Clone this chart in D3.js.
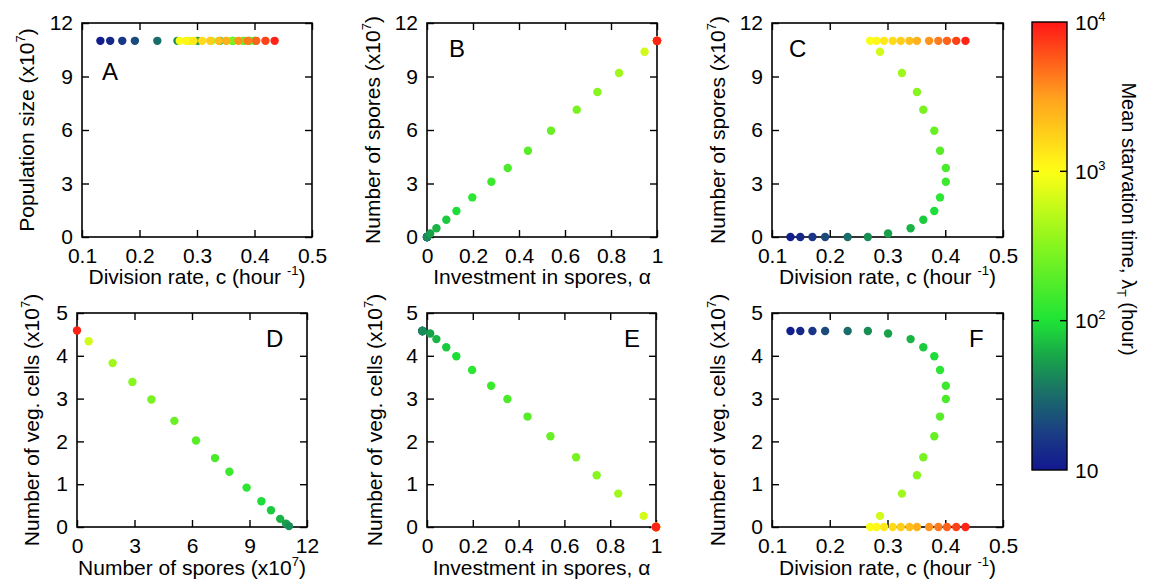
<!DOCTYPE html>
<html>
<head>
<meta charset="utf-8">
<script src="https://cdn.jsdelivr.net/npm/d3@7"></script>
<style>
  html, body { margin: 0; padding: 0; background: #fff; }
  svg { display: block; }
  text { font-family: Arial, "Liberation Sans", sans-serif; fill: #000; }
</style>
</head>
<body>
<svg id="chart" width="1151" height="585"></svg>
<script>
// Strategies with no spore investment (alpha = 0)
const cLow = [0.132, 0.149, 0.170, 0.192, 0.231, 0.266];
const lambdaLow = [11, 13, 16, 21, 32, 45];
const vegLow = 4.58;
const alphaLowPanelE = -0.02;

// Mixed strategies (0 < alpha < 1)
const alphaMid = [0.014, 0.041, 0.084, 0.128, 0.197, 0.280, 0.351, 0.439, 0.539, 0.651, 0.741, 0.835, 0.946];
const cMid = [0.301, 0.340, 0.362, 0.381, 0.391, 0.401, 0.401, 0.391, 0.381, 0.362, 0.351, 0.325, 0.287];
const sporesMid = [0.20, 0.49, 0.97, 1.46, 2.22, 3.10, 3.87, 4.84, 5.96, 7.14, 8.13, 9.20, 10.39];
const vegMid = [4.52, 4.39, 4.20, 3.99, 3.67, 3.30, 2.99, 2.58, 2.12, 1.63, 1.21, 0.78, 0.26];
const lambdaMid = [55, 65, 80, 95, 115, 140, 165, 190, 230, 270, 320, 400, 650];

// Strategies with full spore investment (alpha = 1)
const cHigh = [0.270, 0.281, 0.294, 0.309, 0.323, 0.338, 0.351, 0.372, 0.388, 0.403, 0.419, 0.435];
const lambdaHigh = [950, 1100, 1300, 1550, 1800, 2200, 2600, 3500, 4300, 5300, 7000, 9000];
const sporesHigh = 11;

// Total population size (x10^7)
const populationSize = 11;

// Panel D: vegetative cells against spores
const dSpores = [0, 0.61, 1.86, 2.89, 3.88, 5.08, 6.21, 7.20, 7.95, 8.85, 9.62, 10.12, 10.60, 10.90, 11.06];
const dVeg = [4.59, 4.34, 3.83, 3.39, 2.98, 2.48, 2.02, 1.61, 1.29, 0.92, 0.60, 0.39, 0.19, 0.08, 0.02];
const dLambda = [9000, 650, 400, 320, 270, 230, 190, 165, 140, 115, 95, 80, 65, 55, 45];

// Axis ticks
const rateTicks = [0.1, 0.2, 0.3, 0.4, 0.5];
const alphaTicks = [0, 0.2, 0.4, 0.6, 0.8, 1];
const sporeTicks = [0, 3, 6, 9, 12];
const vegTicks = [0, 1, 2, 3, 4, 5];
const lambdaTicks = [10, 100, 1000, 10000];
const lambdaTickLabels = [["10", ""], ["10", "2"], ["10", "3"], ["10", "4"]];

// Colour map over log10(lambda)
const colourStops = [1, 1.25, 1.5, 1.75, 2, 2.5, 3, 3.5, 4];
const colourValues = ["#121890", "#1a3e84", "#1a6c6a", "#18a24a", "#1ee436", "#86f51e", "#ffff16", "#ffa01e", "#ff1616"];
const colourLog = d3.scaleLinear().domain(colourStops).range(colourValues).interpolate(d3.interpolateRgb).clamp(true);
const colour = v => colourLog(Math.log10(v));

// Assemble the records in drawing order: alpha = 0, mixed, alpha = 1
const records = [];
cLow.forEach((c, i) => records.push({ c, alpha: 0, alphaE: alphaLowPanelE, spores: 0, veg: vegLow, lambda: lambdaLow[i] }));
cMid.forEach((c, i) => records.push({ c, alpha: alphaMid[i], alphaE: alphaMid[i], spores: sporesMid[i], veg: vegMid[i], lambda: lambdaMid[i] }));
cHigh.forEach((c, i) => records.push({ c, alpha: 1, alphaE: 1, spores: sporesHigh, veg: 0, lambda: lambdaHigh[i] }));
const dRecords = dSpores.map((s, i) => ({ spores: s, veg: dVeg[i], lambda: dLambda[i] }));

const svg = d3.select("#chart");
const FONT = 21;
const TICK = 7;
const R = 4.2;

const sup7 = [["(x10", 0], ["7", 1], [")", 0]];

const panels = [
  { letter: "A", left: 82, top: 23, w: 230, h: 214, x: [0.1, 0.5], xt: rateTicks, y: [0, 12], yt: sporeTicks,
    data: records, fx: d => d.c, fy: d => populationSize,
    xTitle: [["Division rate, c (hour ", 0], ["-1", 1], [")", 0]],
    yTitle: [["Population size ", 0]].concat(sup7), yOff: 48, lx: 102, ly: 80 },
  { letter: "B", left: 427, top: 23, w: 230, h: 214, x: [0, 1], xt: alphaTicks, y: [0, 12], yt: sporeTicks,
    data: records, fx: d => d.alpha, fy: d => d.spores,
    xTitle: [["Investment in spores, \u03b1", 0]],
    yTitle: [["Number of spores ", 0]].concat(sup7), yOff: 47, lx: 449, ly: 57 },
  { letter: "C", left: 772, top: 23, w: 231, h: 214, x: [0.1, 0.5], xt: rateTicks, y: [0, 12], yt: sporeTicks,
    data: records, fx: d => d.c, fy: d => d.spores,
    xTitle: [["Division rate, c (hour ", 0], ["-1", 1], [")", 0]],
    yTitle: [["Number of spores ", 0]].concat(sup7), yOff: 47, lx: 789, ly: 57 },
  { letter: "D", left: 77, top: 313, w: 230, h: 214, x: [0, 12], xt: sporeTicks, y: [0, 5], yt: vegTicks,
    data: dRecords, fx: d => d.spores, fy: d => d.veg,
    xTitle: [["Number of spores ", 0]].concat(sup7),
    yTitle: [["Number of veg. cells ", 0]].concat(sup7), yOff: 38, lx: 266, ly: 347 },
  { letter: "E", left: 427, top: 313, w: 229, h: 214, x: [0, 1], xt: alphaTicks, y: [0, 5], yt: vegTicks,
    data: records, fx: d => d.alphaE, fy: d => d.veg,
    xTitle: [["Investment in spores, \u03b1", 0]],
    yTitle: [["Number of veg. cells ", 0]].concat(sup7), yOff: 45, lx: 624, ly: 347 },
  { letter: "F", left: 772, top: 313, w: 231, h: 214, x: [0.1, 0.5], xt: rateTicks, y: [0, 5], yt: vegTicks,
    data: records, fx: d => d.c, fy: d => d.veg,
    xTitle: [["Division rate, c (hour ", 0], ["-1", 1], [")", 0]],
    yTitle: [["Number of veg. cells ", 0]].concat(sup7), yOff: 47, lx: 969, ly: 347 }
];

// Write a label made of normal and superscript (1) / subscript (-1) pieces
function richText(sel, parts, size) {
  let shift = 0;
  parts.forEach(([str, mode]) => {
    const target = mode === 1 ? -0.42 * size : mode === -1 ? 0.25 * size : 0;
    const t = sel.append("tspan").text(str).attr("dy", target - shift);
    if (mode !== 0) t.style("font-size", (size * 0.62) + "px");
    shift = target;
  });
}

panels.forEach(p => {
  const g = svg.append("g").attr("transform", `translate(${p.left},${p.top})`);
  const xs = d3.scaleLinear().domain(p.x).range([0, p.w]);
  const ys = d3.scaleLinear().domain(p.y).range([p.h, 0]);
  const fmt = d3.format("");

  const styleAxis = a => {
    a.select(".domain").remove();
    a.selectAll(".tick line").attr("stroke", "#000").attr("stroke-width", 1.4);
    a.selectAll(".tick text").style("font-size", FONT + "px").attr("fill", "#000");
  };

  g.append("g").attr("transform", `translate(0,${p.h})`)
    .call(d3.axisBottom(xs).tickValues(p.xt).tickSize(-TICK).tickPadding(11).tickFormat(fmt)).call(styleAxis);
  g.append("g")
    .call(d3.axisTop(xs).tickValues(p.xt).tickSize(-TICK).tickFormat("")).call(styleAxis);
  g.append("g")
    .call(d3.axisLeft(ys).tickValues(p.yt).tickSize(-TICK).tickPadding(9).tickFormat(fmt)).call(styleAxis);
  g.append("g").attr("transform", `translate(${p.w},0)`)
    .call(d3.axisRight(ys).tickValues(p.yt).tickSize(-TICK).tickFormat("")).call(styleAxis);

  g.append("rect").attr("width", p.w).attr("height", p.h)
    .attr("fill", "none").attr("stroke", "#000").attr("stroke-width", 1.6);

  g.append("g").selectAll("circle").data(p.data).join("circle")
    .attr("cx", d => xs(p.fx(d)))
    .attr("cy", d => ys(p.fy(d)))
    .attr("r", R)
    .attr("fill", d => colour(d.lambda));

  // axis titles
  const xt = g.append("text").attr("x", p.w / 2).attr("y", p.top < 100 ? 284 - p.top : 575 - p.top)
    .attr("text-anchor", "middle").style("font-size", FONT + "px");
  richText(xt, p.xTitle, FONT);

  const yt = g.append("text").attr("transform", `translate(${-p.yOff},${p.h / 2}) rotate(-90)`)
    .attr("text-anchor", "middle").style("font-size", FONT + "px");
  richText(yt, p.yTitle, FONT);

  svg.append("text").attr("x", p.lx).attr("y", p.ly).style("font-size", "24px").text(p.letter);
});

// Colour bar
const cb = { left: 1032, top: 22, w: 35, h: 448 };
const ls = d3.scaleLog().domain([10, 10000]).range([cb.top + cb.h, cb.top]);
const defs = svg.append("defs");
const grad = defs.append("linearGradient").attr("id", "lambdaGrad")
  .attr("x1", 0).attr("y1", 1).attr("x2", 0).attr("y2", 0);
d3.range(0, 1.0001, 0.02).forEach(f => {
  grad.append("stop").attr("offset", f).attr("stop-color", colourLog(1 + 3 * f));
});
svg.append("rect").attr("x", cb.left).attr("y", cb.top).attr("width", cb.w).attr("height", cb.h)
  .attr("fill", "url(#lambdaGrad)").attr("stroke", "#000").attr("stroke-width", 1.4);

const cbAxis = svg.append("g");
lambdaTicks.forEach((v, i) => {
  const y = ls(v);
  if (i > 0 && i < lambdaTicks.length - 1) {
    cbAxis.append("line").attr("x1", cb.left).attr("x2", cb.left + TICK).attr("y1", y).attr("y2", y)
      .attr("stroke", "#000").attr("stroke-width", 1.4);
    cbAxis.append("line").attr("x1", cb.left + cb.w - TICK).attr("x2", cb.left + cb.w).attr("y1", y).attr("y2", y)
      .attr("stroke", "#000").attr("stroke-width", 1.4);
  }
  const t = cbAxis.append("text").attr("x", cb.left + cb.w + 8).attr("y", y + 7.5).style("font-size", FONT + "px");
  const [base, exp] = lambdaTickLabels[i];
  richText(t, exp ? [[base, 0], [exp, 1]] : [[base, 0]], FONT);
});

const ct = svg.append("text").attr("transform", `translate(1122,219) rotate(90)`)
  .attr("text-anchor", "middle").style("font-size", "20px");
richText(ct, [["Mean starvation time, \u03bb", 0], ["T", -1], [" (hour)", 0]], 20);
</script>
</body>
</html>
